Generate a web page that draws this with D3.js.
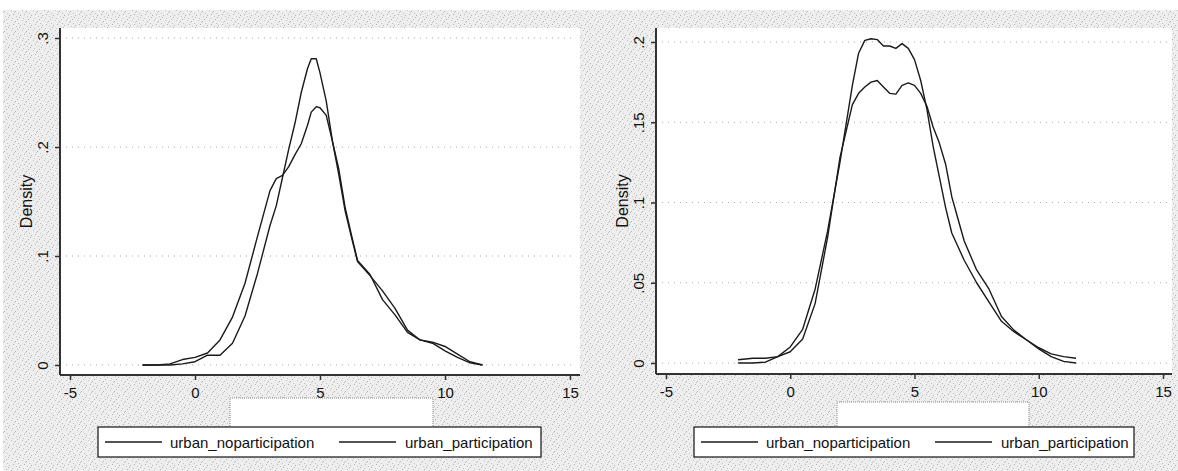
<!DOCTYPE html>
<html>
<head>
<meta charset="utf-8">
<script src="https://cdn.jsdelivr.net/npm/d3@7"></script>
<style>
  body { margin: 0; background: #fff; }
  text { font-family: "Liberation Sans", Arial, sans-serif; fill: #111; }
</style>
</head>
<body>
<div id="chart"></div>
<script>
// left panel: kernel density, x grid and two series
const leftX = [-2.1, -1.5, -1, -0.5, 0, 0.5, 1, 1.5, 2, 2.5, 3, 3.25, 3.5, 3.75, 4, 4.25, 4.5, 4.65, 4.85, 5, 5.25, 5.5, 5.75, 6, 6.25, 6.5, 7, 7.5, 8, 8.5, 9, 9.5, 10, 10.5, 11, 11.5];
const leftNoPart = [0, 0, 0, 0.001, 0.003, 0.009, 0.009, 0.020, 0.045, 0.084, 0.128, 0.146, 0.172, 0.198, 0.222, 0.250, 0.272, 0.281, 0.281, 0.268, 0.242, 0.205, 0.180, 0.145, 0.120, 0.096, 0.083, 0.060, 0.046, 0.030, 0.023, 0.020, 0.013, 0.007, 0.002, 0];
const leftPart = [0, 0, 0.001, 0.005, 0.007, 0.011, 0.023, 0.044, 0.075, 0.118, 0.160, 0.171, 0.174, 0.182, 0.193, 0.203, 0.220, 0.232, 0.237, 0.236, 0.229, 0.205, 0.175, 0.142, 0.118, 0.095, 0.082, 0.068, 0.052, 0.032, 0.023, 0.021, 0.017, 0.010, 0.003, 0];

// right panel
const rightX = [-2.1, -1.5, -1, -0.5, 0, 0.5, 1, 1.5, 2, 2.5, 2.75, 3, 3.25, 3.5, 3.75, 4, 4.25, 4.5, 4.75, 5, 5.25, 5.5, 5.75, 6, 6.25, 6.5, 7, 7.5, 8, 8.5, 9, 9.5, 10, 10.5, 11, 11.5];
const rightNoPart = [0, 0, 0.0005, 0.004, 0.010, 0.021, 0.046, 0.082, 0.125, 0.173, 0.193, 0.201, 0.202, 0.2015, 0.1975, 0.1975, 0.196, 0.199, 0.196, 0.189, 0.176, 0.158, 0.135, 0.116, 0.097, 0.081, 0.064, 0.050, 0.038, 0.026, 0.0195, 0.0145, 0.0088, 0.004, 0.001, 0];
const rightPart = [0.002, 0.003, 0.003, 0.004, 0.007, 0.015, 0.037, 0.078, 0.128, 0.161, 0.168, 0.172, 0.175, 0.176, 0.172, 0.168, 0.1675, 0.173, 0.1745, 0.173, 0.168, 0.160, 0.147, 0.137, 0.124, 0.1036, 0.076, 0.058, 0.046, 0.029, 0.0205, 0.0145, 0.0095, 0.0057, 0.004, 0.003];

const xTicks = [-5, 0, 5, 10, 15];
const leftYTicks = [0, 0.1, 0.2, 0.3];
const rightYTicks = [0, 0.05, 0.1, 0.15, 0.2];
const seriesLabels = ['urban_noparticipation', 'urban_participation'];

const width = 1178, height = 471;

const svg = d3.select('#chart').append('svg')
    .attr('width', width)
    .attr('height', height);

// stipple pattern for the outer graph region (hand-placed dots, irregular)
const dots = [[0,0],[4,1],[7,3],[2,4],[5,6],[8,7],[1,8],[6,9],[3,2],[9,5]];
const pat = svg.append('defs').append('pattern')
    .attr('id', 'stip')
    .attr('width', 11).attr('height', 10)
    .attr('patternUnits', 'userSpaceOnUse');
pat.append('rect').attr('width', 11).attr('height', 10).attr('fill', '#eeeeee');
pat.selectAll('.d').data(dots).enter().append('rect')
    .attr('x', d => d[0]).attr('y', d => d[1])
    .attr('width', 1).attr('height', 1)
    .attr('fill', (d, i) => i % 2 ? '#b4b4b4' : '#c4c4c4');

svg.append('rect')
    .attr('x', 3).attr('y', 10)
    .attr('width', width - 3).attr('height', height - 10)
    .attr('fill', 'url(#stip)');

const fmt = d => d === 0 ? '0' : String(d).replace(/^0/, '');

const panels = [
  { xs: leftX, series: [leftNoPart, leftPart], yTicks: leftYTicks, yMax: 0.3,
    left: 60, right: 580, top: 28, bottom: 375, xr: [70, 570], yr: [365, 38],
    titleX: 26, legend: [98, 427, 443, 30], blank: [230, 398, 203, 31] },
  { xs: rightX, series: [rightNoPart, rightPart], yTicks: rightYTicks, yMax: 0.2,
    left: 656, right: 1172, top: 28, bottom: 374, xr: [666, 1163], yr: [363, 42],
    titleX: 622, legend: [694, 427, 440, 30], blank: [837, 402, 192, 28] }
];

panels.forEach(function(p) {
  const x = d3.scaleLinear().domain([-5, 15]).range(p.xr);
  const y = d3.scaleLinear().domain([0, p.yMax]).range(p.yr);

  // white plot region
  svg.append('rect')
      .attr('x', p.left).attr('y', p.top)
      .attr('width', p.right - p.left).attr('height', p.bottom - p.top)
      .attr('fill', '#fff');

  // dotted gridlines
  svg.append('g').selectAll('line')
      .data(p.yTicks).enter().append('line')
      .attr('x1', p.left + 6).attr('x2', p.right - 4)
      .attr('y1', d => y(d)).attr('y2', d => y(d))
      .attr('stroke', '#a8a8a8')
      .attr('stroke-dasharray', '1,5');

  // y axis
  const ya = svg.append('g')
      .attr('transform', 'translate(' + p.left + ',0)')
      .call(d3.axisLeft(y).tickValues(p.yTicks).tickFormat(fmt).tickSize(5));
  ya.select('.domain').remove();
  ya.selectAll('.tick line').attr('stroke', '#333').attr('stroke-width', 1.5);
  ya.selectAll('.tick text')
      .attr('x', 0).attr('dy', null)
      .attr('transform', 'translate(-12,0) rotate(-90)')
      .attr('text-anchor', 'middle')
      .style('font-size', '15px')
      .style('font-family', '"Liberation Sans", Arial, sans-serif');

  // x axis
  const xa = svg.append('g')
      .attr('transform', 'translate(0,' + p.bottom + ')')
      .call(d3.axisBottom(x).tickValues(xTicks).tickFormat(d => String(d)).tickSize(5));
  xa.select('.domain').remove();
  xa.selectAll('.tick line').attr('stroke', '#333').attr('stroke-width', 1.5);
  xa.selectAll('.tick text')
      .attr('y', 12)
      .style('font-size', '15px')
      .style('font-family', '"Liberation Sans", Arial, sans-serif');

  // axis lines
  svg.append('line')
      .attr('x1', p.left).attr('x2', p.left)
      .attr('y1', p.top).attr('y2', p.bottom)
      .attr('stroke', '#333').attr('stroke-width', 2);
  svg.append('line')
      .attr('x1', p.left).attr('x2', p.right)
      .attr('y1', p.bottom).attr('y2', p.bottom)
      .attr('stroke', '#333').attr('stroke-width', 2);

  svg.append('text')
      .attr('transform', 'translate(' + p.titleX + ',' + ((p.top + p.bottom) / 2) + ') rotate(-90)')
      .attr('text-anchor', 'middle')
      .attr('dy', '0.35em')
      .style('font-size', '16px')
      .text('Density');

  // density curves
  const line = d3.line()
      .x((d, i) => x(p.xs[i]))
      .y(d => y(d));

  p.series.forEach(function(s) {
    svg.append('path')
        .datum(s)
        .attr('d', line)
        .attr('fill', 'none')
        .attr('stroke', '#1a1a1a')
        .attr('stroke-width', 1.4)
        .attr('stroke-linejoin', 'round');
  });

  // empty (blanked) x title box
  svg.append('rect')
      .attr('x', p.blank[0]).attr('y', p.blank[1])
      .attr('width', p.blank[2]).attr('height', p.blank[3])
      .attr('fill', '#fff')
      .attr('stroke', '#888')
      .attr('stroke-dasharray', '1,1');

  // legend
  const lg = svg.append('g').attr('transform', 'translate(' + p.legend[0] + ',' + p.legend[1] + ')');
  lg.append('rect')
      .attr('width', p.legend[2]).attr('height', p.legend[3])
      .attr('fill', '#fff')
      .attr('stroke', '#111')
      .attr('stroke-width', 1.2);

  const offs = [[7, 72], [241, 307]];
  seriesLabels.forEach(function(lab, i) {
    lg.append('line')
        .attr('x1', offs[i][0]).attr('x2', offs[i][0] + 57)
        .attr('y1', 15).attr('y2', 15)
        .attr('stroke', '#1a1a1a').attr('stroke-width', 1.4);
    lg.append('text')
        .attr('x', offs[i][1]).attr('y', 20.5)
        .style('font-size', '15px')
        .text(lab);
  });
});
</script>
</body>
</html>
